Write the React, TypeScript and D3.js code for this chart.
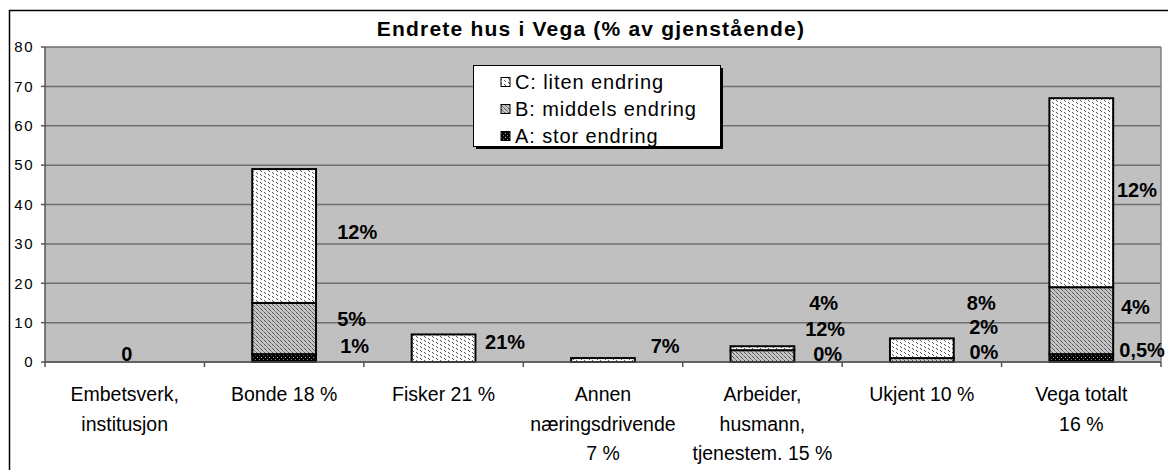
import React from "react";
import * as d3 from "d3";

const title = "Endrete hus i Vega (% av gjenstående)";
const categories = ["emb", "bonde", "fisker", "annen", "arbeider", "ukjent", "vega"];
const categoryLines = [
  ["Embetsverk,", "institusjon"],
  ["Bonde 18 %"],
  ["Fisker 21 %"],
  ["Annen", "næringsdrivende", "7 %"],
  ["Arbeider,", "husmann,", "tjenestem. 15 %"],
  ["Ukjent 10 %"],
  ["Vega totalt", "16 %"],
];
const seriesA = [0, 2, 0, 0, 0, 0, 2];
const seriesB = [0, 13, 0, 0, 3, 1, 17];
const seriesC = [0, 34, 7, 1, 1, 5, 48];
const seriesNames = ["C: liten endring", "B: middels endring", "A: stor endring"];
const yTicks = [0, 10, 20, 30, 40, 50, 60, 70, 80];

// data labels: category index, text, value (y position in data units)
const labelCat = [0, 1, 1, 1, 2, 3, 4, 4, 4, 5, 5, 5, 6, 6, 6];
const labelText = ["0", "12%", "5%", "1%", "21%", "7%", "4%", "12%", "0%", "8%", "2%", "0%", "12%", "4%", "0,5%"];
const labelValue = [2.0, 33.1, 10.8, 4.0, 5.1, 4.0, 14.9, 8.5, 2.1, 14.9, 8.9, 2.5, 43.7, 14.0, 3.0];
// layout offsets (px from band centre) for the labels
const labelDx = [2, 53, 53, 56, 41.5, 47.7, 46.7, 42.7, 50.7, 45, 47.3, 47.6, 35.7, 39.7, 38];

const FONT = "'Liberation Sans', Arial, Helvetica, sans-serif";

export default function App() {
  const W = 1168, H = 470;
  const plot = { left: 45, right: 1161, top: 47, bottom: 362 };
  const x = d3.scaleBand<string>().domain(categories).range([plot.left, plot.right]).padding(0);
  const y = d3.scaleLinear().domain([0, 80]).range([plot.bottom, plot.top]);
  const bw = x.bandwidth() / 2.5;

  const stackData = categories.map((c, i) => ({ cat: c, A: seriesA[i], B: seriesB[i], C: seriesC[i] }));
  const stack = d3.stack<any>().keys(["A", "B", "C"])(stackData);
  const fills: Record<string, string> = { A: "url(#patA)", B: "url(#patB)", C: "url(#patC)" };

  const boundaries = d3.range(categories.length + 1).map((i) => plot.left + i * x.step());

  const legendKeys = ["C", "B", "A"];

  return (
    <svg width={W} height={H} style={{ position: "absolute", left: 0, top: 0 }} fontFamily={FONT}>
      <defs>
        <pattern id="patC" width="8" height="4" patternUnits="userSpaceOnUse">
          <rect width="8" height="4" fill="#ffffff" shapeRendering="crispEdges" />
          <rect x="0" y="0" width="1" height="1" fill="#555" shapeRendering="crispEdges" />
          <rect x="1" y="1" width="1" height="1" fill="#555" shapeRendering="crispEdges" />
          <rect x="4" y="2" width="1" height="1" fill="#555" shapeRendering="crispEdges" />
          <rect x="5" y="3" width="1" height="1" fill="#555" shapeRendering="crispEdges" />
        </pattern>
        <pattern id="patB" width="4" height="4" patternUnits="userSpaceOnUse">
          <rect width="4" height="4" fill="#c4c4c4" shapeRendering="crispEdges" />
          <rect x="0" y="0" width="1" height="1" fill="#555" shapeRendering="crispEdges" />
          <rect x="1" y="1" width="1" height="1" fill="#555" shapeRendering="crispEdges" />
          <rect x="2" y="2" width="1" height="1" fill="#666" shapeRendering="crispEdges" />
          <rect x="3" y="3" width="1" height="1" fill="#888" shapeRendering="crispEdges" />
        </pattern>
        <pattern id="patA" width="4" height="4" patternUnits="userSpaceOnUse">
          <rect width="4" height="4" fill="#000" shapeRendering="crispEdges" />
          <rect x="1" y="1" width="1" height="1" fill="#aaa" shapeRendering="crispEdges" />
          <rect x="3" y="3" width="1" height="1" fill="#777" shapeRendering="crispEdges" />
        </pattern>
      </defs>

      <rect x={0} y={0} width={W} height={H} fill="#fff" />
      {/* chart border */}
      <rect x={9.5} y={10.5} width={1170} height={480} fill="none" stroke="#000" strokeWidth={1.5} />

      {/* title */}
      <text x={591} y={36} textAnchor="middle" fontSize={21} fontWeight="bold" letterSpacing={1.2}>
        {title}
      </text>

      {/* plot area */}
      <rect x={plot.left} y={plot.top} width={plot.right - plot.left} height={plot.bottom - plot.top} fill="#c0c0c0" />
      {yTicks.map((t) => (
        <line key={"g" + t} x1={plot.left} x2={plot.right} y1={y(t)} y2={y(t)} stroke="#6e6e6e" strokeWidth={1.5} />
      ))}
      <line x1={plot.right} x2={plot.right} y1={plot.top} y2={plot.bottom} stroke="#808080" strokeWidth={1.5} />

      {/* bars */}
      {stack.map((layer) =>
        layer.map((seg, i) => {
          const h = y(seg[0]) - y(seg[1]);
          if (h <= 0) return null;
          const cx = (x(categories[i]) as number) + x.bandwidth() / 2;
          return (
            <rect
              key={layer.key + i}
              x={cx - bw / 2}
              y={y(seg[1])}
              width={bw}
              height={h}
              fill={fills[layer.key]}
              stroke="#000"
              strokeWidth={2}
            />
          );
        })
      )}

      {/* axes */}
      <line x1={plot.left} x2={plot.left} y1={plot.top} y2={plot.bottom} stroke="#555" strokeWidth={1.5} />
      <line x1={plot.left} x2={plot.right} y1={plot.bottom} y2={plot.bottom} stroke="#555" strokeWidth={1.5} />
      {yTicks.map((t) => (
        <g key={"t" + t}>
          <line x1={plot.left - 4} x2={plot.left} y1={y(t)} y2={y(t)} stroke="#555" strokeWidth={1.5} />
          <text x={34} y={y(t)} dy="0.35em" textAnchor="end" fontSize={15} letterSpacing={1.5}>
            {t}
          </text>
        </g>
      ))}
      {boundaries.map((bx, i) => (
        <line key={"b" + i} x1={bx} x2={bx} y1={plot.bottom} y2={plot.bottom + 5} stroke="#555" strokeWidth={1.5} />
      ))}

      {/* category labels */}
      {categoryLines.map((lines, i) => {
        const cx = (x(categories[i]) as number) + x.bandwidth() / 2;
        return lines.map((ln, j) => (
          <text key={"c" + i + j} x={cx} y={401 + j * 29.5} textAnchor="middle" fontSize={19.5}>
            {ln}
          </text>
        ));
      })}

      {/* data labels */}
      {labelText.map((t, k) => {
        const ci = labelCat[k];
        const cx = (x(categories[ci]) as number) + x.bandwidth() / 2;
        const isZero = ci === 0;
        return (
          <text
            key={"l" + k}
            x={cx + labelDx[k]}
            y={y(labelValue[k])}
            dy="0.35em"
            textAnchor={isZero ? "middle" : "start"}
            fontSize={20}
            fontWeight="bold"
          >
            {t}
          </text>
        );
      })}

      {/* legend */}
      <rect x={476} y={68} width={247} height={81} fill="#000" />
      <rect x={473.5} y={65.5} width={247} height={81} fill="#fff" stroke="#000" strokeWidth={1} />
      {legendKeys.map((k, i) => (
        <g key={"lg" + k}>
          <rect x={501} y={77.5 + i * 27} width={9} height={9} fill={fills[k]} stroke="#000" strokeWidth={1} />
          <text x={515} y={88.5 + i * 27} fontSize={20} letterSpacing={0.9}>
            {seriesNames[i]}
          </text>
        </g>
      ))}
    </svg>
  );
}
